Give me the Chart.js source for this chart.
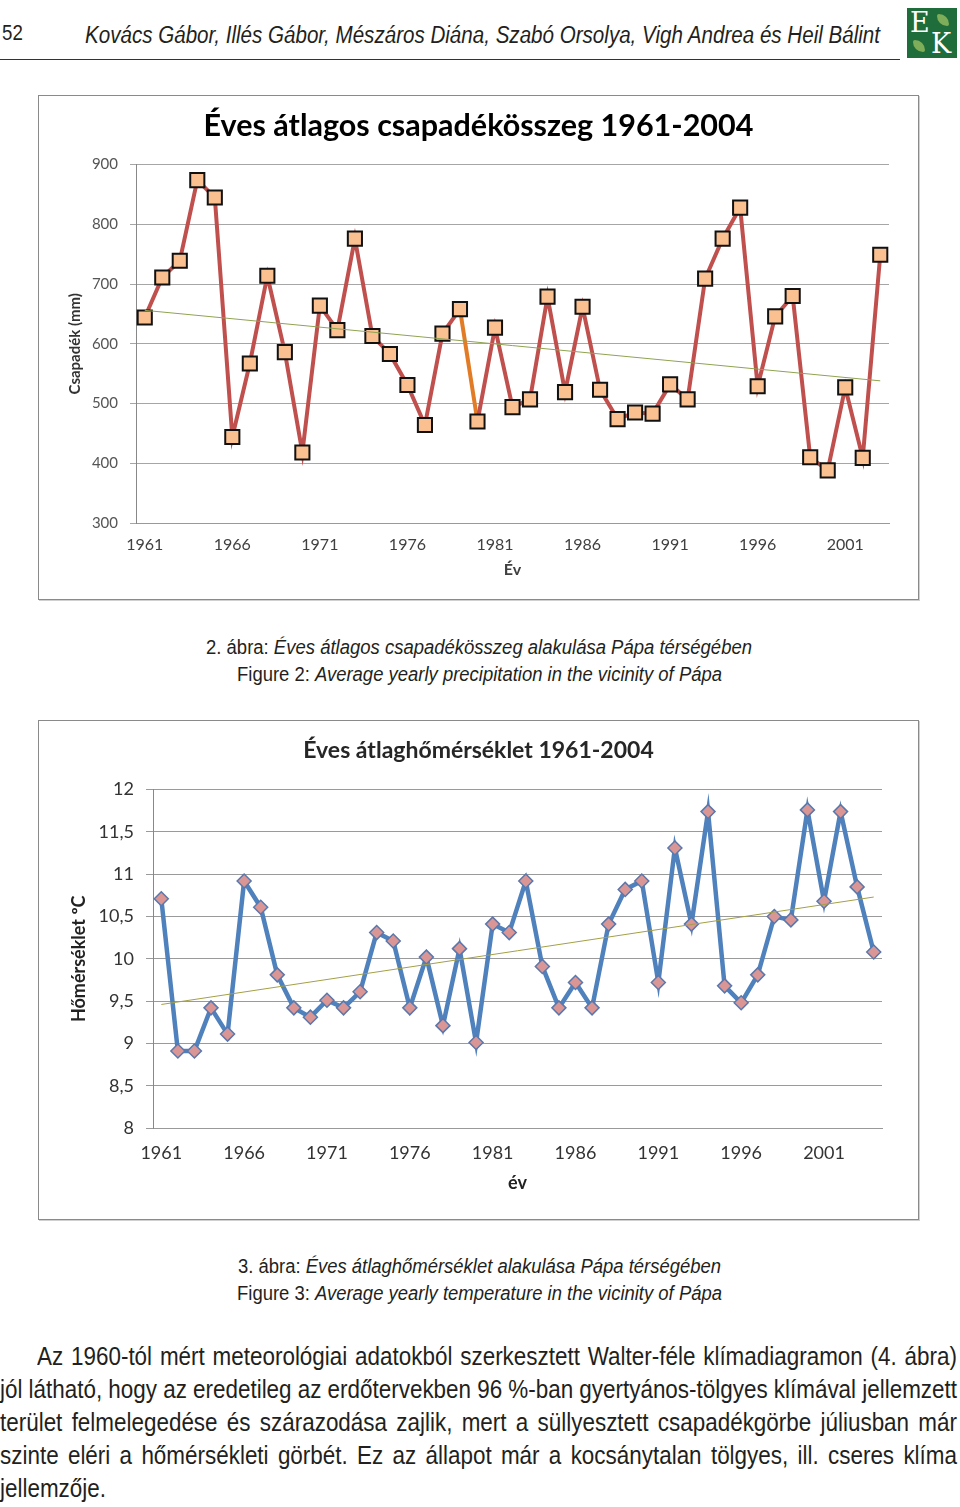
<!DOCTYPE html>
<html>
<head>
<meta charset="utf-8">
<script src="https://cdn.jsdelivr.net/npm/chart.js@4/dist/chart.umd.min.js"></script>
<style>
  html, body { margin: 0; padding: 0; background: #fff; }
  body { width: 960px; height: 1507px; position: relative; overflow: hidden; color: #231f20; }
  .narrow { font-family: "Liberation Sans", Arial, sans-serif; }
  .fit { position: absolute; white-space: nowrap; transform-origin: left top; }
  #pageno { left: 2px; top: 20px; font-size: 22px; }
  #authors { left: 85px; top: 22px; font-size: 23px; font-style: italic; }
  #rule { position: absolute; left: 0; top: 59px; width: 900px; height: 0; border-top: 1.5px solid #333; }
  #logo { position: absolute; left: 907px; top: 8px; width: 50px; height: 50px; background: #1f6d3a; overflow: hidden; }
  #logo .leaf { position: absolute; width: 12px; height: 12px; background: #7fae5a; border-radius: 2px 10px 2px 10px; }
  #logo .e { position: absolute; left: 3px; top: 1px; color: #fff; font: 27px "DejaVu Serif", serif; line-height: 27px; }
  #logo .k { position: absolute; left: 24px; top: 22px; color: #fff; font: 27px "DejaVu Serif", serif; line-height: 27px; }
  .frame { position: absolute; left: 38px; width: 881px; box-sizing: border-box; border: 1px solid #8a8a8a; box-shadow: 1px 1px 0 #d0d0d0; background: #fff; }
  .frame .box { position: absolute; left: 0; top: 0; right: 0; bottom: 0; }
  #frame1 { top: 95px; height: 505px; }
  #frame2 { top: 720px; height: 500px; }
  .caption { font-size: 20px; }
  .caption i { font-style: italic; }
  #body { position: absolute; left: 0; top: 1342px; width: 957px; font-size: 25px; }
  #body span { position: absolute; left: 0; white-space: nowrap; transform-origin: left top; }
</style>
</head>
<body>
<div id="pageno" class="narrow fit">52</div>
<div id="authors" class="narrow fit">Kovács Gábor, Illés Gábor, Mészáros Diána, Szabó Orsolya, Vigh Andrea és Heil Bálint</div>
<div id="rule"></div>
<div id="logo">
  <div class="leaf" style="left:30px;top:6px"></div>
  <div class="leaf" style="left:6px;top:32px"></div>
  <span class="e">E</span><span class="k">K</span>
</div>

<div id="frame1" class="frame"><div class="box"><canvas id="precipChart"></canvas></div></div>
<div class="caption narrow fit" data-x="206" data-w="546" style="top:636px">2. ábra: <i>Éves átlagos csapadékösszeg alakulása Pápa térségében</i></div>
<div class="caption narrow fit" data-x="237" data-w="485" style="top:663px">Figure 2: <i>Average yearly precipitation in the vicinity of Pápa</i></div>

<div id="frame2" class="frame"><div class="box"><canvas id="tempChart"></canvas></div></div>
<div class="caption narrow fit" data-x="238" data-w="483" style="top:1255px">3. ábra: <i>Éves átlaghőmérséklet alakulása Pápa térségében</i></div>
<div class="caption narrow fit" data-x="237" data-w="485" style="top:1282px">Figure 3: <i>Average yearly temperature in the vicinity of Pápa</i></div>

<div id="body" class="narrow">
  <span data-x="37" data-w="920" style="top:0px">Az 1960-tól mért meteorológiai adatokból szerkesztett Walter-féle klímadiagramon (4. ábra)</span>
  <span data-x="0" data-w="957" style="top:33px">jól látható, hogy az eredetileg az erdőtervekben 96 %-ban gyertyános-tölgyes klímával jellemzett</span>
  <span data-x="0" data-w="957" style="top:66px">terület felmelegedése és szárazodása zajlik, mert a süllyesztett csapadékgörbe júliusban már</span>
  <span data-x="0" data-w="957" style="top:99px">szinte eléri a hőmérsékleti görbét. Ez az állapot már a kocsánytalan tölgyes, ill. cseres klíma</span>
  <span data-x="0" data-w="106" data-last="1" style="top:132px">jellemzője.</span>
</div>

<script>
const years = ['1961', '1962', '1963', '1964', '1965', '1966', '1967', '1968', '1969', '1970',
  '1971', '1972', '1973', '1974', '1975', '1976', '1977', '1978', '1979', '1980',
  '1981', '1982', '1983', '1984', '1985', '1986', '1987', '1988', '1989', '1990',
  '1991', '1992', '1993', '1994', '1995', '1996', '1997', '1998', '1999', '2000',
  '2001', '2002', '2003', '2004'];

// csapadék (mm) - 43 pont a grafikonon
const precip = [644, 711, 739, 874, 845, 444, 567, 714, 586, 418,
  664, 623, 776, 613, 583, 531, 464, 617, 658, 470,
  627, 494, 507, 679, 519, 662, 523, 474, 485, 483,
  532, 507, 709, 776, 828, 529, 646, 680, 410, 388,
  527, 409, 749];
const precipTrend = [656, 538];      // lineáris trend kezdő / végpont
const precipTicks = [300, 400, 500, 600, 700, 800, 900];

// hőmérséklet (°C) - 44 pont
const temp = [10.71, 8.91, 8.91, 9.42, 9.11, 10.92, 10.61, 9.81, 9.42, 9.31,
  9.51, 9.42, 9.61, 10.31, 10.21, 9.42, 10.02, 9.21, 10.12, 9.01,
  10.41, 10.31, 10.92, 9.91, 9.42, 9.72, 9.42, 10.41, 10.82, 10.92,
  9.72, 11.31, 10.41, 11.74, 9.68, 9.48, 9.81, 10.50, 10.46, 11.76,
  10.68, 11.74, 10.85, 10.08];
const tempTrend = [9.46, 10.73];
const tempTicks = [8, 8.5, 9, 9.5, 10, 10.5, 11, 11.5, 12];

const chartFont = 'Lato, "Open Sans", sans-serif';

// keskeny (condensed) szedés utánzása: vízszintes nyújtás a kívánt szélességre
function fitText() {
  document.querySelectorAll('.fit').forEach(el => {
    if (el.dataset.x) el.style.left = el.dataset.x + 'px';
    const target = el.dataset.w ? +el.dataset.w : null;
    if (target) el.style.transform = `scaleX(${target / el.getBoundingClientRect().width})`;
  });
  document.getElementById('pageno').style.transform = 'scaleX(0.85)';
  document.getElementById('authors').style.transform =
    `scaleX(${795 / document.getElementById('authors').getBoundingClientRect().width})`;

  // sorkizárt bekezdés: betűszélesség a záró sorból, a többi sor szóközökkel kitöltve
  const lines = [...document.querySelectorAll('#body span')];
  const last = lines.find(l => l.dataset.last);
  const k = +last.dataset.w / last.getBoundingClientRect().width;
  lines.forEach(l => {
    l.style.left = l.dataset.x + 'px';
    if (!l.dataset.last) {
      const w = l.getBoundingClientRect().width;
      const spaces = (l.textContent.match(/ /g) || []).length;
      l.style.wordSpacing = ((+l.dataset.w / k - w) / spaces) + 'px';
    }
    l.style.transform = `scaleX(${k})`;
  });
}

function trendData(labels, ends) {
  return labels.map((_, i) => i === 0 ? ends[0] : i === labels.length - 1 ? ends[1] : null);
}

function everyFifth(labels) {
  return (val, i) => i % 5 === 0 ? labels[i] : '';
}

// üres jobb oldali sáv, hogy a cím a teljes keretre legyen középre igazítva
function spacerAxis(width) {
  return {
    position: 'right', display: true,
    grid: { display: false, drawTicks: false },
    border: { display: false },
    ticks: { display: false },
    afterFit: s => { s.width = width; }
  };
}

function buildPrecip() {
  const labels = years.slice(0, precip.length);
  new Chart(document.getElementById('precipChart'), {
    type: 'line',
    data: {
      labels,
      datasets: [
        {
          data: trendData(labels, precipTrend),
          borderColor: '#8fa352',
          borderWidth: 1,
          pointRadius: 0,
          spanGaps: true
        },
        {
          data: precip,
          borderColor: '#c0504d',
          borderWidth: 4,
          pointStyle: 'rect',
          pointRadius: 10,
          pointBackgroundColor: '#fac090',
          pointBorderColor: '#111',
          pointBorderWidth: 2,
          segment: { borderColor: ctx => ctx.p0DataIndex === 18 ? '#e27b25' : undefined }
        }
      ]
    },
    options: {
      responsive: true,
      maintainAspectRatio: false,
      animation: false,
      layout: { padding: 0 },
      plugins: {
        legend: { display: false },
        tooltip: { enabled: false },
        title: {
          display: true,
          text: 'Éves átlagos csapadékösszeg 1961-2004',
          color: '#000',
          font: { family: chartFont, size: 30.5, weight: 'bold' },
          padding: { top: 12, bottom: 20 }
        }
      },
      scales: {
        x: {
          offset: true,
          grid: { display: false, drawTicks: false },
          border: { color: '#999' },
          ticks: { autoSkip: false, maxRotation: 0, padding: 12, color: '#404040',
            font: { family: chartFont, size: 16 }, callback: everyFifth(labels) },
          title: { display: true, text: 'Év', color: '#404040',
            font: { family: chartFont, size: 16, weight: 'bold' }, padding: { top: 0, bottom: 20 } },
          afterFit: s => { s.height = 76; }
        },
        y: {
          min: 300, max: 900,
          afterBuildTicks: s => { s.ticks = precipTicks.map(v => ({ value: v })); },
          grid: { color: '#a6a6a6', tickLength: 6 },
          border: { color: '#888' },
          ticks: { padding: 12, color: '#555', font: { family: chartFont, size: 15 } },
          title: { display: true, text: 'Csapadék (mm)', color: '#333',
            font: { family: chartFont, size: 15, weight: 'bold' }, padding: { top: 27, bottom: 0 } },
          afterFit: s => { s.width = 97; }
        },
        pad: spacerAxis(29)
      }
    }
  });
}

function buildTemp() {
  const labels = years.slice(0, temp.length);
  new Chart(document.getElementById('tempChart'), {
    type: 'line',
    data: {
      labels,
      datasets: [
        {
          data: trendData(labels, tempTrend),
          borderColor: '#a3a046',
          borderWidth: 1,
          pointRadius: 0,
          spanGaps: true
        },
        {
          data: temp,
          borderColor: '#4f81bd',
          borderWidth: 4.5,
          pointStyle: 'rectRot',
          pointRadius: 7,
          pointBackgroundColor: '#d99694',
          pointBorderColor: '#5b78ad',
          pointBorderWidth: 1.5
        }
      ]
    },
    options: {
      responsive: true,
      maintainAspectRatio: false,
      animation: false,
      layout: { padding: 0 },
      plugins: {
        legend: { display: false },
        tooltip: { enabled: false },
        title: {
          display: true,
          text: 'Éves átlaghőmérséklet 1961-2004',
          color: '#262626',
          font: { family: chartFont, size: 23, weight: 'bold' },
          padding: { top: 16, bottom: 25 }
        }
      },
      scales: {
        x: {
          offset: true,
          grid: { display: false, drawTicks: false },
          border: { color: '#999' },
          ticks: { autoSkip: false, maxRotation: 0, padding: 14, color: '#333',
            font: { family: chartFont, size: 18 }, callback: everyFifth(labels) },
          title: { display: true, text: 'év', color: '#222',
            font: { family: chartFont, size: 18, weight: 'bold' }, padding: { top: 0, bottom: 25 } },
          afterFit: s => { s.height = 91; }
        },
        y: {
          min: 8, max: 12,
          afterBuildTicks: s => { s.ticks = tempTicks.map(v => ({ value: v })); },
          grid: { color: '#9a9a9a', tickLength: 7 },
          border: { color: '#888' },
          ticks: { padding: 12, color: '#333', font: { family: chartFont, size: 18 },
            callback: v => String(v).replace('.', ',') },
          title: { display: true, text: 'Hőmérséklet ºC', color: '#222',
            font: { family: chartFont, size: 18, weight: 'bold' }, padding: { top: 29, bottom: 0 } },
          afterFit: s => { s.width = 114; }
        },
        pad: spacerAxis(36)
      }
    }
  });
}

fitText();
buildPrecip();
buildTemp();
</script>
</body>
</html>
